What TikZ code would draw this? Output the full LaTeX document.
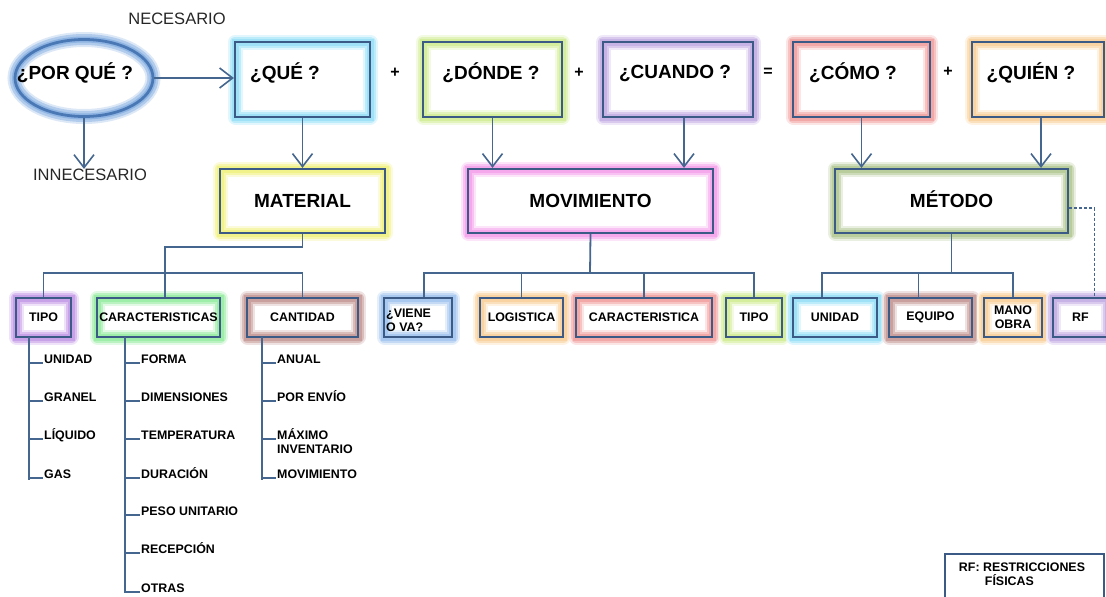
\documentclass[tikz,border=0pt]{standalone}
\usepackage{fontspec}
\setmainfont{Liberation Sans}
\usepackage{tikz}
\usetikzlibrary{arrows.meta,positioning,calc,shapes.geometric}
\definecolor{edge}{HTML}{3B5B86}
\definecolor{wire}{HTML}{44668F}
\definecolor{ovalEdge}{HTML}{4A78B5}
\definecolor{glBlue}{HTML}{8EB4E3}
\definecolor{glCyan}{HTML}{9FE2F7}
\definecolor{glLime}{HTML}{D5EE9E}
\definecolor{glLav}{HTML}{C8B3E6}
\definecolor{glRose}{HTML}{F3A8A8}
\definecolor{glPeach}{HTML}{FAD3A2}
\definecolor{glYellow}{HTML}{F2F28A}
\definecolor{glMagenta}{HTML}{F5A8EC}
\definecolor{glOlive}{HTML}{B9CC9C}
\definecolor{glViolet}{HTML}{C8A2E8}
\definecolor{glGreen}{HTML}{9EEDA8}
\definecolor{glBrown}{HTML}{C9A09E}
\definecolor{glSky}{HTML}{A9C9F0}
\newcommand{\lblfont}{\fontsize{19}{21}\selectfont\bfseries}
\newcommand{\boxfont}{\fontsize{12.4}{14}\selectfont\bfseries}
\newcommand{\itmfont}{\fontsize{12.4}{14.5}\selectfont\bfseries}
\newcommand{\notefont}{\fontsize{16.5}{18}\selectfont}
\tikzset{
  arr/.style={-{Straight Barb[length=13pt,width=20pt]}, line width=1.6pt, draw=wire},
  tree/.style={line width=1.8pt, draw=wire},
  dashtree/.style={line width=1.4pt, draw=wire, dash pattern=on 3pt off 2pt},
  sz/.style 2 args={minimum width=#1, minimum height=#2},
  glowbox/.style={rectangle, draw=edge, line width=2.2pt, inner sep=1pt, align=center,
    preaction={draw=#1!30, line width=15pt, line join=round},
    preaction={draw=#1!70, line width=11pt, line join=round},
    preaction={draw=#1, line width=7pt}},
  midtxt/.style={font=\lblfont, text height=13.5pt, text depth=0pt},
  oval/.style={ellipse, draw=ovalEdge, line width=2.8pt, minimum width=138, minimum height=77,
    preaction={draw=glBlue!30, line width=15pt},
    preaction={draw=glBlue!70, line width=11pt},
    preaction={draw=glBlue, line width=6pt}},
  bigtxt/.style={font=\lblfont, inner sep=0pt},
  optxt/.style={font=\fontsize{16}{18}\selectfont\bfseries, inner sep=0pt},
  notetxt/.style={font=\notefont, text=black!85, inner sep=0pt},
  item/.style={font=\itmfont, anchor=base west, inner sep=1pt},
  legendbox/.style={rectangle, draw=edge, line width=1.6pt}
}
\begin{document}
\begin{tikzpicture}[x=1pt,y=-1pt]
  \useasboundingbox (0,0) rectangle (1106,597);
  % top row
  \node[oval] (porque) at (84,78) {};
  \node[bigtxt] (porqueT) at (75,73) {¿POR QUÉ ?};
  \node[notetxt] (nec) at (177,19) {NECESARIO};
  \node[notetxt] (innec) at (90,175) {INNECESARIO};
  \foreach \n/\c/\x/\w in {que/glCyan/302.5/135, donde/glLime/492.5/139, cuando/glLav/678/150,
      como/glRose/861.5/137, quien/glPeach/1038/132}
    \node[glowbox=\c, sz={\w}{75}] (\n) at (\x,79.5) {};
  \foreach \n/\x/\t in {que/285/¿QUÉ ?, donde/491/¿DÓNDE ?, cuando/675/¿CUANDO ?,
      como/853/¿CÓMO ?, quien/1031/¿QUIÉN ?}
    \node[bigtxt] (\n T) at (\x,73) {\t};
  \node[optxt] (op1) at (395,73) {+};
  \node[optxt] (op2) at (579,73) {+};
  \node[optxt] (op3) at (768,72) {=};
  \node[optxt] (op4) at (948,72) {+};

  % middle row
  \node[glowbox=glYellow, sz={165}{64}, midtxt] (material) at (302.5,201) {MATERIAL};
  \node[glowbox=glMagenta, sz={245}{64}, midtxt] (movim) at (590.5,201) {MOVIMIENTO};
  \node[glowbox=glOlive, sz={233}{64}, midtxt] (metodo) at (951.5,201) {MÉTODO};

  \draw[arr] (porque.east) -- (porque.east -| que.west);
  \draw[arr] (porque.south) -- (porque.south |- innec.north);
  \draw[arr] (que.south) -- (material.north);
  \draw[arr] (donde.south) -- (donde.south |- movim.north);
  \draw[arr] ([xshift=6pt]cuando.south) -- ([xshift=6pt]cuando.south |- movim.north);
  \draw[arr] (como.south) -- (como.south |- metodo.north);
  \draw[arr] ([xshift=3pt]quien.south) -- ([xshift=3pt]quien.south |- metodo.north);

  % lower row
  \foreach \n/\c/\x/\w/\t in {tipoA/glViolet/43.5/55/TIPO, caract/glGreen/158.5/123/CARACTERISTICAS,
      cantidad/glBrown/302.5/111/CANTIDAD, logist/glPeach/521.5/83/LOGISTICA,
      caractB/glRose/644/136/CARACTERISTICA, tipoB/glLime/754/56/TIPO,
      unidad/glCyan/835/84/UNIDAD, equipo/glBrown/930.5/83/EQUIPO,
      mano/glPeach/1013/58/{MANO\\OBRA}, rf/glLav/1080.5/55/RF}
    \node[glowbox=\c, sz={\w}{39}, font=\boxfont] (\n) at (\x,317.5) {\t};
  \node[glowbox=glSky, sz={68}{39}] (viene) at (418,317.5) {};
  \node[font=\boxfont, align=left, anchor=west, inner sep=0pt] (vieneT) at (386,320) {¿VIENE\\O VA?};

  % branches
  \coordinate (matJ) at (165,247);
  \coordinate (matBar) at (165,273);
  \draw[tree] (material.south) |- (matJ) -- (matJ |- caract.north);
  \draw[tree] (tipoA.north) |- (matBar) -| (cantidad.north);
  \coordinate (movBar) at (590,273);
  \draw[tree] (movim.south) -- (movBar);
  \draw[tree] ([xshift=6pt]viene.north) |- (movBar) -| (tipoB.north);
  \draw[tree] (logist.north) -- (logist.north |- movBar);
  \draw[tree] (caractB.north) -- (caractB.north |- movBar);
  \coordinate (metBar) at (952,273);
  \draw[tree] (metodo.south) -- (metodo.south |- metBar);
  \draw[tree] ([xshift=-13pt]unidad.north) |- (metBar) -| (mano.north);
  \draw[tree] ([xshift=-12pt]equipo.north) -- ([xshift=-12pt]equipo.north |- metBar);
  \draw[dashtree] ([yshift=-7pt]metodo.east) -| ([xshift=14pt]rf.north);

  % lists
  \coordinate (tipoL) at (29,337);
  \foreach \n/\y/\t in {ta/363/UNIDAD, tb/401/GRANEL, tc/439/LÍQUIDO, td/478/GAS}{
    \node[item] (\n) at (43,\y) {\t};
    \draw[tree] (tipoL |- \n.base) -- (\n.base west);
  }
  \draw[tree] (tipoL) -- ([yshift=-2pt]tipoL |- td.base);
  \coordinate (caractL) at (125,337);
  \foreach \n/\y/\t in {ca/363/FORMA, cb/401/DIMENSIONES, cc/439/TEMPERATURA, cd/478/DURACIÓN,
      ce/515/PESO UNITARIO, cf/553/RECEPCIÓN, cg/592/OTRAS}{
    \node[item] (\n) at (140,\y) {\t};
    \draw[tree] (caractL |- \n.base) -- (\n.base west);
  }
  \draw[tree] (caractL) -- ([yshift=-1pt]caractL |- cg.base);
  \coordinate (cantL) at (262,337);
  \foreach \n/\y/\t in {qa/363/ANUAL, qb/401/POR ENVÍO, qd/478/MOVIMIENTO}{
    \node[item] (\n) at (276,\y) {\t};
    \draw[tree] (cantL |- \n.base) -- (\n.base west);
  }
  \node[font=\itmfont, align=left, anchor=north west, inner sep=1pt] (qc) at (276,427) {MÁXIMO\\INVENTARIO};
  \draw[tree] (cantL |- 0,439) -- (qc.west |- 0,439);
  \draw[tree] (cantL) -- ([yshift=-2pt]cantL |- qd.base);

  % legend
  \node[legendbox, sz={159}{52}] (leyenda) at (1024.5,580) {};
  \node[font=\boxfont, align=left, inner sep=0pt] (leyendaT) at (1022,574) {RF: RESTRICCIONES\\\hspace*{26pt}FÍSICAS};
\end{tikzpicture}
\end{document}
